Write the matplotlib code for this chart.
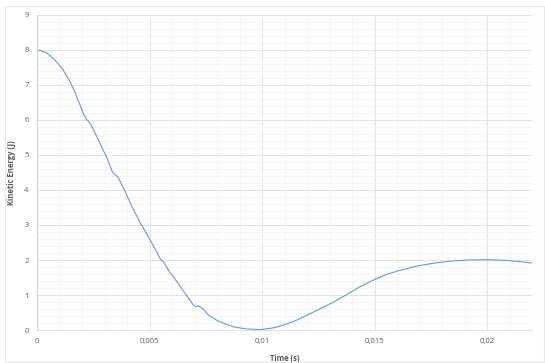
import matplotlib
matplotlib.use("Agg")
import matplotlib.pyplot as plt
from matplotlib.ticker import MultipleLocator, FuncFormatter
from matplotlib.patches import Rectangle

# kinetic energy of the oscillating body over time
time_s = [0, 0.0002, 0.00045, 0.0008, 0.00116, 0.00147, 0.0017, 0.00178,
          0.0019, 0.00205, 0.0022, 0.00236, 0.00267, 0.00294, 0.00312, 0.00332,
          0.00338, 0.0036, 0.0039, 0.00423, 0.0046, 0.00503, 0.0053, 0.00548,
          0.00561, 0.0059, 0.00623, 0.0066, 0.00695, 0.00708, 0.00717, 0.00739,
          0.00761, 0.00801, 0.00838, 0.00873, 0.0093, 0.00993, 0.0105, 0.01095,
          0.0115, 0.01202, 0.0126, 0.01318, 0.0137, 0.01425, 0.01496, 0.0155,
          0.01616, 0.0169, 0.01763, 0.0184, 0.01915, 0.02004, 0.0208, 0.02137,
          0.02204]
energy_j = [8.0, 7.98, 7.91, 7.71, 7.43, 7.09, 6.78, 6.63,
            6.45, 6.2, 6.02, 5.91, 5.51, 5.14, 4.91, 4.56,
            4.49, 4.37, 3.98, 3.51, 3.05, 2.57, 2.25, 2.03,
            1.96, 1.65, 1.37, 1.03, 0.71, 0.67, 0.69, 0.6,
            0.43, 0.27, 0.17, 0.09, 0.03, 0.01, 0.06, 0.14,
            0.27, 0.43, 0.61, 0.8, 0.99, 1.2, 1.43, 1.58,
            1.71, 1.83, 1.91, 1.97, 2.0, 2.01, 1.99, 1.96,
            1.91]

x_ticks = [0, 0.005, 0.01, 0.015, 0.02]

plt.rcParams["font.family"] = ["Open Sans", "DejaVu Sans"]

fig = plt.figure(figsize=(5.45, 3.63), dpi=100)
ax = fig.add_axes([0.0679, 0.0909, 0.9083, 0.8678])

ax.plot(time_s, energy_j, color="#6b96dc", linewidth=0.8,
        solid_joinstyle="round")

ax.set_xlim(0, 0.022)
ax.set_ylim(0, 9)
ax.set_xticks(x_ticks)
ax.xaxis.set_minor_locator(MultipleLocator(0.001))
ax.yaxis.set_major_locator(MultipleLocator(1))
ax.yaxis.set_minor_locator(MultipleLocator(0.2))

def comma_fmt(v, pos):
    if abs(v) < 1e-12:
        return "0"
    return ("%g" % v).replace(".", ",")

ax.xaxis.set_major_formatter(FuncFormatter(comma_fmt))

ax.grid(which="major", color="#e3e3e3", linewidth=0.7)
ax.grid(which="minor", color="#f4f4f4", linewidth=0.6)
ax.set_axisbelow(True)

for side in ["top", "right"]:
    ax.spines[side].set_visible(False)
ax.spines["left"].set_color("#cdd7ea")
ax.spines["bottom"].set_color("#e0e0e0")
ax.spines["left"].set_linewidth(0.8)
ax.spines["bottom"].set_linewidth(0.8)

ax.tick_params(which="both", length=0, labelsize=5.5, labelcolor="#595959", pad=6)

ax.set_xlabel("Time (s)", fontsize=5.5, fontweight="bold", color="#595959", labelpad=6)
ax.set_ylabel("Kinetic Energy (J)", fontsize=5.5, fontweight="bold", color="#595959", labelpad=6)

# light border round the whole chart
fig.patches.append(Rectangle((5 / 545, 1 / 363), 539 / 545, 356 / 363,
                             transform=fig.transFigure, fill=False,
                             edgecolor="#e8e8e8", linewidth=0.8))

fig.savefig("out.png", dpi=100)
